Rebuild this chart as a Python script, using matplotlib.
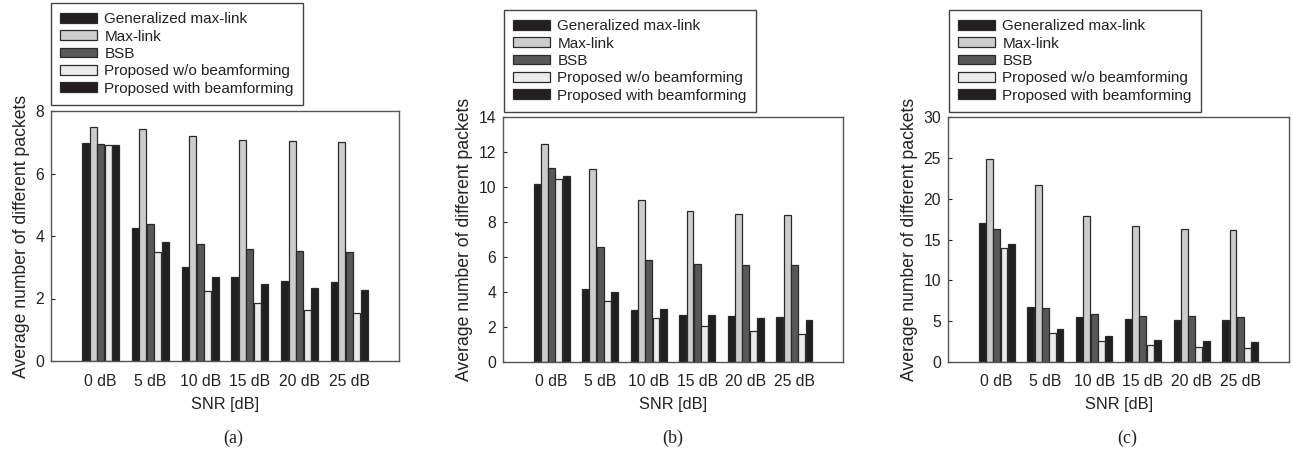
import matplotlib
matplotlib.use("Agg")
import matplotlib.pyplot as plt
import numpy as np

plt.rcParams['font.family'] = ['Liberation Sans', 'DejaVu Sans']

snr_labels = ["0 dB", "5 dB", "10 dB", "15 dB", "20 dB", "25 dB"]
series_names = ["Generalized max-link", "Max-link", "BSB",
                "Proposed w/o beamforming", "Proposed with beamforming"]

# Panel (a)
a_gml = [6.97, 4.25, 3.00, 2.68, 2.55, 2.52]
a_ml = [7.48, 7.41, 7.21, 7.07, 7.03, 7.02]
a_bsb = [6.94, 4.39, 3.75, 3.58, 3.52, 3.50]
a_wo = [6.92, 3.50, 2.24, 1.87, 1.64, 1.55]
a_with = [6.91, 3.80, 2.69, 2.45, 2.34, 2.27]

# Panel (b)
b_gml = [10.17, 4.17, 2.99, 2.70, 2.61, 2.55]
b_ml = [12.48, 11.01, 9.24, 8.65, 8.46, 8.38]
b_bsb = [11.09, 6.57, 5.83, 5.62, 5.56, 5.54]
b_wo = [10.46, 3.49, 2.51, 2.06, 1.77, 1.62]
b_with = [10.65, 4.00, 3.03, 2.69, 2.50, 2.40]

# Panel (c)
c_gml = [16.97, 6.76, 5.53, 5.25, 5.13, 5.09]
c_ml = [24.87, 21.73, 17.91, 16.69, 16.32, 16.20]
c_bsb = [16.24, 6.59, 5.86, 5.62, 5.58, 5.54]
c_wo = [14.00, 3.50, 2.56, 2.08, 1.79, 1.67]
c_with = [14.45, 4.03, 3.13, 2.73, 2.52, 2.44]

panels = [
    dict(data=[a_gml, a_ml, a_bsb, a_wo, a_with], ymax=8, yticks=[0, 2, 4, 6, 8],
         rect=(51, 111, 399, 361), leg=(51, 3), cap="(a)", capx=233, xlabx=225),
    dict(data=[b_gml, b_ml, b_bsb, b_wo, b_with], ymax=14, yticks=[0, 2, 4, 6, 8, 10, 12, 14],
         rect=(503, 117, 843, 362), leg=(504, 10), cap="(b)", capx=673, xlabx=673),
    dict(data=[c_gml, c_ml, c_bsb, c_wo, c_with], ymax=30, yticks=[0, 5, 10, 15, 20, 25, 30],
         rect=(948, 117, 1289, 362), leg=(949, 10), cap="(c)", capx=1127, xlabx=1119),
]

colors = ["#231f20", "#cdcdcd", "#585858", "#ececec", "#231f20"]
edge = "#2a2a2a"

W, H = 1293, 454
fig = plt.figure(figsize=(W / 100, H / 100), dpi=100)

x = np.arange(1, len(snr_labels) + 1)
step = 0.15
bw = 0.14

for p in panels:
    x0, y0, x1, y1 = p["rect"]
    ax = fig.add_axes([x0 / W, 1 - y1 / H, (x1 - x0) / W, (y1 - y0) / H])
    handles = []
    for i, (vals, col, name) in enumerate(zip(p["data"], colors, series_names)):
        bars = ax.bar(x + (i - 2) * step, vals, width=bw, color=col,
                      edgecolor=edge, linewidth=0.9, label=name)
        handles.append(bars)
    ax.set_xlim(0, 7)
    ax.set_ylim(0, p["ymax"])
    ax.set_yticks(p["yticks"])
    ax.set_xticks(x)
    ax.set_xticklabels(snr_labels)
    ax.tick_params(axis='y', direction='in', length=3, pad=5, labelsize=11.3,
                   colors='#222222', right=False)
    ax.tick_params(axis='x', length=0, pad=9, labelsize=11.3, colors='#222222')
    for s in ax.spines.values():
        s.set_color('#555555')
        s.set_linewidth(1.0)
    ax.set_ylabel("Average number of different packets", fontsize=12.7,
                  color='#222222', labelpad=4)
    fig.text(p["xlabx"] / W, 1 - 405 / H, "SNR [dB]", ha='center', va='center',
             fontsize=11.8, color='#222222')
    fig.text(p["capx"] / W, 1 - 438 / H, p["cap"], ha='center', va='center',
             fontsize=13, family=['Liberation Serif'], color='#222222')
    lx, ly = p["leg"]
    leg = ax.legend(handles=handles, loc='upper left',
                    bbox_to_anchor=(lx / W, 1 - ly / H), bbox_transform=fig.transFigure,
                    borderaxespad=0, fontsize=11, handlelength=2.4, handleheight=0.6,
                    handletextpad=0.5, labelspacing=0.22, borderpad=0.6,
                    fancybox=False, frameon=True, framealpha=1)
    leg.get_frame().set_edgecolor('#444444')
    leg.get_frame().set_linewidth(1.0)
    for t in leg.get_texts():
        t.set_color('#222222')

fig.savefig("out.png", dpi=100)
